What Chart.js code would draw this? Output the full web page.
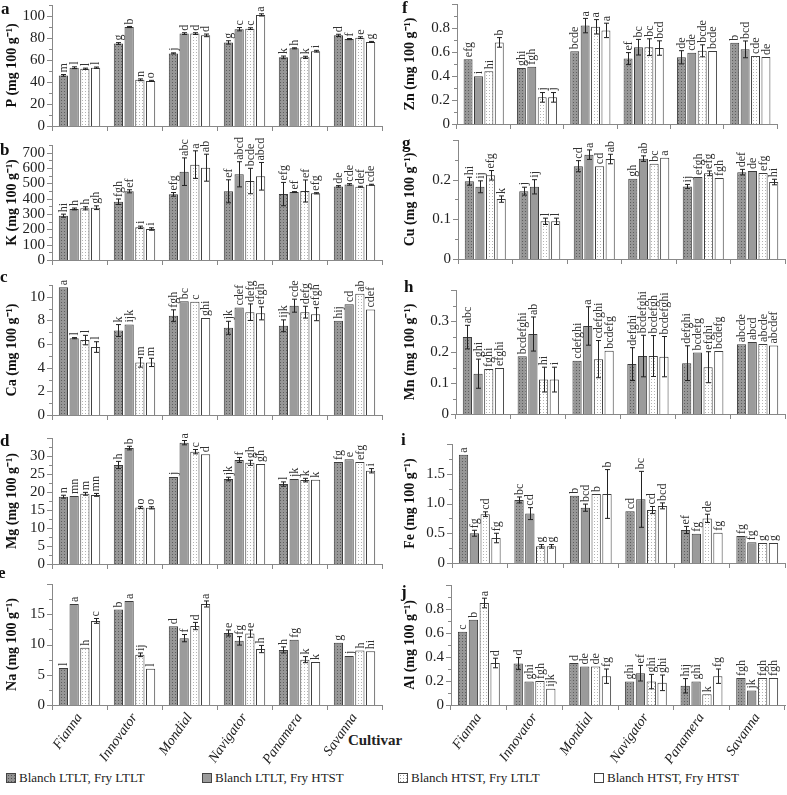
<!DOCTYPE html>
<html>
<head>
<meta charset="utf-8">
<title>Minerals by cultivar</title>
<script src="https://cdn.jsdelivr.net/npm/chart.js@4.4.0/dist/chart.umd.min.js"></script>
<style>
    body { margin: 0; background: #fff; font-family: "Liberation Serif", serif; color: #222; }
    #wrap { position: relative; width: 787px; height: 795px; overflow: hidden; }
    #wrap canvas { position: absolute; }
    .plab { position: absolute; font-weight: bold; font-size: 17px; color: #111; line-height: 20px; }
    #xtitle { position: absolute; left: 330px; top: 732px; width: 90px; text-align: center; font-weight: bold; font-size: 15px; }
    .leg { position: absolute; top: 770px; font-size: 13px; white-space: nowrap; line-height: 16px; }
    .sw { display: inline-block; width: 8px; height: 8px; border: 1px solid #444; margin-right: 3px; vertical-align: -1px; }
    .s1 { background-color: #909090; background-image: radial-gradient(#555 0.7px, transparent 0.8px); background-size: 3px 3px; }
    .s2 { background-color: #9b9b9b; }
    .s3 { background-color: #fff; background-image: radial-gradient(#999 0.7px, transparent 0.8px); background-size: 3px 3px; }
    .s4 { background-color: #fff; }
</style>
</head>
<body>
<div id="wrap">
    <div id="xtitle">Cultivar</div>
    <div class="leg" style="left:6px"><span class="sw s1"></span>Blanch LTLT, Fry LTLT</div>
    <div class="leg" style="left:202px"><span class="sw s2"></span>Blanch LTLT, Fry HTST</div>
    <div class="leg" style="left:398px"><span class="sw s3"></span>Blanch HTST, Fry LTLT</div>
    <div class="leg" style="left:594px"><span class="sw s4"></span>Blanch HTST, Fry HTST</div>
</div>

<script>
    // categories / series
    const cultivars = ['Fianna', 'Innovator', 'Mondial', 'Navigator', 'Panamera', 'Savanna'];
    const treatments = ['Blanch LTLT, Fry LTLT', 'Blanch LTLT, Fry HTST', 'Blanch HTST, Fry LTLT', 'Blanch HTST, Fry HTST'];

    // one row per treatment, one value per cultivar
    const P_mean = [[46, 75, 66, 76, 62.4, 82.4], [53, 90, 84, 88, 70.6, 79], [52, 42, 84, 88.5, 62.4, 80.3], [53, 41, 82.4, 101, 68, 76.4]];
    const P_err = [[0.8, 0.8, 0.5, 1.5, 1.2, 1], [0.8, 0.5, 0.8, 1.5, 0.5, 0.5], [0.6, 0.8, 0.8, 0.8, 1, 0.8], [0.6, 0.5, 1.2, 1, 0.8, 0.5]];
    const P_sig = [['m', 'g', 'j', 'g', 'k', 'd'], ['l', 'b', 'd', 'c', 'h', 'f'], ['l', 'n', 'd', 'c', 'k', 'e'], ['l', 'o', 'd', 'a', 'i', 'g']];

    const K_mean = [[289, 380, 428, 448, 430, 480], [333, 448, 576, 559, 443, 493], [337, 213, 622, 515, 450, 478], [341, 202, 602, 546, 435, 491]];
    const K_err = [[10, 18, 12, 75, 76, 5], [6, 10, 90, 82, 3, 5], [10, 8, 90, 83, 72, 3], [12, 8, 88, 90, 4, 3]];
    const K_sig = [['hi', 'fgh', 'efg', 'ef', 'efg', 'de'], ['h', 'ef', 'abc', 'abcd', 'ef', 'cde'], ['h', 'i', 'a', 'bcde', 'ef', 'def'], ['gh', 'i', 'ab', 'abcd', 'efg', 'cde']];

    const Ca_mean = [[10.8, 7.15, 8.4, 7.38, 7.55, 7.97], [6.5, 7.66, 9.63, 9.1, 9.25, 9.38], [6.34, 4.45, 9.58, 8.7, 8.7, 10.25], [5.75, 4.45, 8.2, 8.6, 8.53, 8.93]];
    const Ca_err = [[0, 0.5, 0.5, 0.55, 0.5, 0], [0.05, 0, 0, 0, 0.55, 0], [0.4, 0.4, 0, 0.7, 0.5, 0], [0.45, 0.35, 0, 0.55, 0.55, 0]];
    const Ca_sig = [['a', 'k', 'fgh', 'jk', 'ijk', 'hij'], ['l', 'ijk', 'bc', 'cdef', 'cde', 'cd'], ['l', 'm', 'c', 'defg', 'defg', 'ab'], ['l', 'm', 'ghi', 'efgh', 'efgh', 'cdef']];

    const Mg_mean = [[18.7, 27.5, 24.2, 23.6, 22.2, 28.3], [18.9, 32.2, 33.7, 28.9, 23.6, 29.1], [19.5, 15.7, 31.2, 28.1, 23.3, 28.3], [19.2, 15.6, 30.5, 27.8, 23.4, 25.9]];
    const Mg_err = [[0.4, 1, 0, 0.5, 0.6, 0], [0, 0.5, 0.6, 0.7, 0, 0], [0.4, 0.3, 0.6, 0.7, 0.5, 0], [0.4, 0.3, 0, 0, 0, 0.6]];
    const Mg_sig = [['n', 'h', 'j', 'jk', 'l', 'fg'], ['mn', 'b', 'a', 'f', 'jk', 'e'], ['m', 'o', 'c', 'gh', 'k', 'efg'], ['mn', 'o', 'd', 'gh', 'k', 'i']];

    const Na_mean = [[6.1, 15.8, 13.0, 11.9, 9.1, 10.3], [16.7, 17.2, 11.05, 10.6, 10.8, 8.1], [9.45, 8.3, 13.05, 11.8, 7.5, 9.0], [13.9, 6.0, 16.7, 9.25, 7.1, 8.9]];
    const Na_err = [[0, 0, 0, 0.5, 0.5, 0], [0, 0, 0.6, 0.7, 0, 0], [0, 0.3, 0.6, 0.6, 0.5, 0], [0.4, 0, 0.5, 0.6, 0, 0]];
    const Na_sig = [['l', 'b', 'd', 'e', 'h', 'g'], ['a', 'a', 'f', 'fg', 'fg', 'j'], ['h', 'ij', 'd', 'e', 'k', 'h'], ['c', 'l', 'a', 'h', 'k', 'hi']];

    const Zn_mean = [[0.54, 0.467, 0.606, 0.545, 0.556, 0.678], [0.397, 0.478, 0.82, 0.64, 0.594, 0.622], [0.44, 0.222, 0.81, 0.64, 0.61, 0.567], [0.68, 0.222, 0.78, 0.633, 0.608, 0.558]];
    const Zn_err = [[0, 0, 0, 0.05, 0.055, 0], [0, 0, 0.06, 0.065, 0, 0.07], [0, 0.04, 0.06, 0.07, 0.05, 0], [0.04, 0.04, 0.06, 0.06, 0, 0]];
    const Zn_sig = [['efg', 'ghi', 'bcde', 'ef', 'de', 'b'], ['i', 'fgh', 'a', 'bc', 'cde', 'bcd'], ['hi', 'j', 'a', 'bc', 'bcde', 'cde'], ['b', 'j', 'a', 'bcd', 'bcde', 'de']];

    const Cu_mean = [[0.196, 0.171, 0.234, 0.202, 0.183, 0.219], [0.182, 0.182, 0.263, 0.253, 0.207, 0.222], [0.211, 0.095, 0.234, 0.24, 0.216, 0.217], [0.151, 0.095, 0.252, 0.255, 0.204, 0.194]];
    const Cu_err = [[0.01, 0.01, 0.014, 0, 0.005, 0.007], [0.015, 0.018, 0.012, 0.007, 0, 0], [0.012, 0.008, 0, 0, 0.006, 0], [0.008, 0.008, 0.012, 0, 0, 0.007]];
    const Cu_sig = [['hi', 'j', 'cd', 'gh', 'ij', 'def'], ['ij', 'ij', 'a', 'ab', 'efgh', 'de'], ['efg', 'l', 'cd', 'bc', 'efg', 'efg'], ['k', 'l', 'ab', 'a', 'fgh', 'hi']];

    const Mn_mean = [[0.248, 0.186, 0.172, 0.161, 0.164, 0.225], [0.13, 0.258, 0.284, 0.187, 0.198, 0.232], [0.145, 0.111, 0.177, 0.187, 0.151, 0.226], [0.148, 0.111, 0.204, 0.185, 0.203, 0.221]];
    const Mn_err = [[0.038, 0, 0, 0.053, 0.056, 0], [0.047, 0.055, 0.062, 0.067, 0, 0], [0, 0.04, 0.06, 0.066, 0.05, 0], [0, 0.04, 0, 0.065, 0, 0]];
    const Mn_sig = [['abc', 'bcdefghi', 'cdefghi', 'defghi', 'defghi', 'abcde'], ['ghi', 'ab', 'a', 'bcdefghi', 'bcdefg', 'abcd'], ['fghi', 'hi', 'cdefghi', 'bcdefgh', 'efghi', 'abcde'], ['efghi', 'i', 'bcdefg', 'bcdefghi', 'bcdefg', 'abcdef']];

    const Fe_mean = [[1.82, 1.06, 1.13, 0.87, 0.555, 0.455], [0.5, 0.83, 0.93, 1.07, 0.49, 0.35], [0.82, 0.28, 1.16, 0.89, 0.75, 0.335], [0.42, 0.28, 1.16, 0.96, 0.51, 0.335]];
    const Fe_err = [[0, 0.05, 0, 0, 0.06, 0], [0.05, 0.1, 0.06, 0.47, 0, 0], [0.04, 0.03, 0, 0.06, 0.07, 0], [0.08, 0.03, 0.41, 0.05, 0, 0]];
    const Fe_sig = [['a', 'bc', 'b', 'cd', 'ef', 'fg'], ['fg', 'cd', 'bcd', 'bc', 'fg', 'fg'], ['cd', 'g', 'b', 'cd', 'de', 'g'], ['fg', 'g', 'b', 'bcd', 'fg', 'g']];

    const Al_mean = [[0.61, 0.345, 0.35, 0.195, 0.16, 0.225], [0.71, 0.195, 0.32, 0.265, 0.195, 0.12], [0.85, 0.2, 0.32, 0.195, 0.09, 0.225], [0.35, 0.135, 0.24, 0.185, 0.24, 0.225]];
    const Al_err = [[0, 0.05, 0, 0, 0.06, 0], [0, 0, 0, 0.065, 0, 0], [0.04, 0, 0, 0.06, 0, 0], [0.04, 0, 0.06, 0.065, 0.06, 0]];
    const Al_sig = [['c', 'd', 'd', 'ghi', 'hij', 'fgh'], ['b', 'ghi', 'de', 'ef', 'ghi', 'jk'], ['a', 'fgh', 'de', 'ghi', 'k', 'fgh'], ['d', 'ijk', 'fg', 'ghi', 'fg', 'fgh']];

    // panel layout (page pixels): plot left/right, top of y axis, zero line
    const panels = [
        { id: 'a', name: 'P', mean: P_mean, err: P_err, sig: P_sig, max: 110, step: 20, minor: 10, dec: 0, col: 0, pl: 52, pr: 382, top: 5, zero: 126, lx: 1, ly: -1 },
        { id: 'b', name: 'K', mean: K_mean, err: K_err, sig: K_sig, max: 750, step: 100, minor: 50, dec: 0, col: 0, pl: 52, pr: 382, top: 145, zero: 260, lx: 0, ly: 140 },
        { id: 'c', name: 'Ca', mean: Ca_mean, err: Ca_err, sig: Ca_sig, max: 11, step: 2, minor: 1, dec: 0, col: 0, pl: 52, pr: 382, top: 285, zero: 415, lx: 0, ly: 267 },
        { id: 'd', name: 'Mg', mean: Mg_mean, err: Mg_err, sig: Mg_sig, max: 35, step: 5, minor: 2.5, dec: 0, col: 0, pl: 52, pr: 382, top: 438, zero: 564, lx: 0, ly: 431 },
        { id: 'e', name: 'Na', mean: Na_mean, err: Na_err, sig: Na_sig, max: 20, step: 5, minor: 2.5, dec: 0, col: 0, pl: 52, pr: 382, top: 584, zero: 705, lx: -2, ly: 563, bottom: true },
        { id: 'f', name: 'Zn', mean: Zn_mean, err: Zn_err, sig: Zn_sig, max: 1.0, step: 0.2, minor: 0.1, dec: 1, col: 1, pl: 457, pr: 777, top: 4, zero: 124, lx: 402, ly: -2 },
        { id: 'g', name: 'Cu', mean: Cu_mean, err: Cu_err, sig: Cu_sig, max: 0.3, step: 0.1, minor: 0.05, dec: 1, col: 1, pl: 458, pr: 785, top: 140, zero: 259, lx: 402, ly: 133 },
        { id: 'h', name: 'Mn', mean: Mn_mean, err: Mn_err, sig: Mn_sig, max: 0.4, step: 0.1, minor: 0.05, dec: 1, col: 1, pl: 456, pr: 785, top: 290, zero: 414, lx: 404, ly: 277 },
        { id: 'i', name: 'Fe', mean: Fe_mean, err: Fe_err, sig: Fe_sig, max: 2.0, step: 0.5, minor: 0.25, dec: 1, col: 1, pl: 452, pr: 785, top: 444, zero: 563, lx: 401, ly: 430 },
        { id: 'j', name: 'Al', mean: Al_mean, err: Al_err, sig: Al_sig, max: 1.0, step: 0.2, minor: 0.1, dec: 1, col: 1, pl: 451, pr: 785, top: 585, zero: 705, lx: 401, ly: 582, bottom: true }
    ];

    const FONT = '"Liberation Serif"';

    function dotPattern(base, dot) {
        const c = document.createElement('canvas');
        c.width = 3; c.height = 3;
        const g = c.getContext('2d');
        g.fillStyle = base; g.fillRect(0, 0, 3, 3);
        g.fillStyle = dot; g.fillRect(1, 1, 1, 1);
        return g.createPattern(c, 'repeat');
    }
    const fills = [dotPattern('#979797', '#5e5e5e'), '#9b9b9b', dotPattern('#ffffff', '#b4b4b4'), '#ffffff'];

    // error bars, letters and y tick marks
    function extrasPlugin(p) {
        return {
            id: 'extras',
            afterDatasetsDraw(chart) {
                const ctx = chart.ctx, y = chart.scales.y;
                ctx.save();
                p.mean.forEach((row, i) => {
                    const meta = chart.getDatasetMeta(i);
                    meta.data.forEach((bar, j) => {
                        const v = row[j], e = p.err[i][j];
                        const x = Math.round(bar.x) + 0.5;
                        const yt = y.getPixelForValue(v + e);
                        if (e > 0) {
                            const yb = y.getPixelForValue(v - e);
                            ctx.strokeStyle = '#222';
                            ctx.lineWidth = 1;
                            ctx.beginPath();
                            ctx.moveTo(x, yt); ctx.lineTo(x, yb);
                            ctx.moveTo(x - 2.5, yt); ctx.lineTo(x + 2.5, yt);
                            ctx.moveTo(x - 2.5, yb); ctx.lineTo(x + 2.5, yb);
                            ctx.stroke();
                        }
                        ctx.save();
                        ctx.translate(bar.x + 0.5, yt - 2);
                        ctx.rotate(-Math.PI / 2);
                        ctx.font = '12px ' + FONT;
                        ctx.fillStyle = '#333';
                        ctx.textAlign = 'left';
                        ctx.textBaseline = 'middle';
                        ctx.fillText(p.sig[i][j], 0, 0);
                        ctx.restore();
                    });
                });
                // y tick marks, major and minor
                ctx.strokeStyle = '#888';
                ctx.lineWidth = 1;
                ctx.beginPath();
                const n = Math.round(p.max / p.minor);
                for (let k = 0; k <= n; k++) {
                    const v = k * p.minor;
                    const py = Math.round(y.getPixelForValue(v)) + 0.5;
                    const major = Math.abs(v / p.step - Math.round(v / p.step)) < 1e-6;
                    ctx.moveTo(y.right - (major ? 5 : 3), py);
                    ctx.lineTo(y.right, py);
                }
                ctx.stroke();
                ctx.restore();
            }
        };
    }

    const wrap = document.getElementById('wrap');

    panels.forEach(p => {
        const cl = p.col === 0 ? 0 : 395;
        const cw = 392;
        const padTop = 32;
        const xH = p.bottom ? 70 : 8;
        const cv = document.createElement('canvas');
        cv.width = cw;
        cv.height = p.zero - p.top + padTop + xH;
        cv.style.left = cl + 'px';
        cv.style.top = (p.top - padTop) + 'px';
        wrap.appendChild(cv);

        const lab = document.createElement('div');
        lab.className = 'plab';
        lab.style.left = p.lx + 'px';
        lab.style.top = p.ly + 'px';
        lab.textContent = p.id;
        wrap.appendChild(lab);

        new Chart(cv.getContext('2d'), {
            type: 'bar',
            data: {
                labels: cultivars,
                datasets: treatments.map((t, i) => ({
                    label: t,
                    data: p.mean[i],
                    backgroundColor: fills[i],
                    borderColor: '#3c3c3c',
                    borderWidth: 1,
                    categoryPercentage: 0.78,
                    barPercentage: 0.86
                }))
            },
            options: {
                responsive: false,
                animation: false,
                layout: { padding: { top: padTop, right: cw - (p.pr - cl), left: 0, bottom: 0 } },
                plugins: { legend: { display: false }, tooltip: { enabled: false } },
                scales: {
                    x: {
                        grid: { display: true, drawOnChartArea: false, drawTicks: true, tickLength: 5, color: '#888', offset: true },
                        border: { display: true, color: '#888' },
                        ticks: {
                            display: !!p.bottom, autoSkip: false, maxRotation: 55, minRotation: 55, padding: 0,
                            color: '#222', font: { family: FONT, size: 14, style: 'italic' }
                        },
                        afterFit: s => { s.height = xH; s.paddingLeft = 0; s.paddingRight = 0; }
                    },
                    y: {
                        min: 0, max: p.max,
                        grid: { display: false, drawTicks: false },
                        border: { display: true, color: '#888' },
                        afterBuildTicks: s => {
                            const t = [];
                            for (let k = 0; k * p.step < p.max - p.step / 100; k++) t.push({ value: +(k * p.step).toFixed(6) });
                            s.ticks = t;
                        },
                        ticks: {
                            autoSkip: false, padding: 7, color: '#222',
                            font: { family: FONT, size: 15 },
                            callback: v => (Math.abs(v) < 1e-9 ? '0' : v.toFixed(p.dec))
                        },
                        title: {
                            display: true, text: p.name + ' (mg 100 g\u207B\u00B9)', color: '#111',
                            font: { family: FONT, size: 14, weight: 'bold' },
                            padding: { top: p.col === 0 ? 4 : 7, bottom: 0 }
                        },
                        afterFit: s => { s.width = p.pl - cl; s.paddingTop = 0; s.paddingBottom = 0; }
                    }
                }
            },
            plugins: [extrasPlugin(p)]
        });
    });
</script>
</body>
</html>
